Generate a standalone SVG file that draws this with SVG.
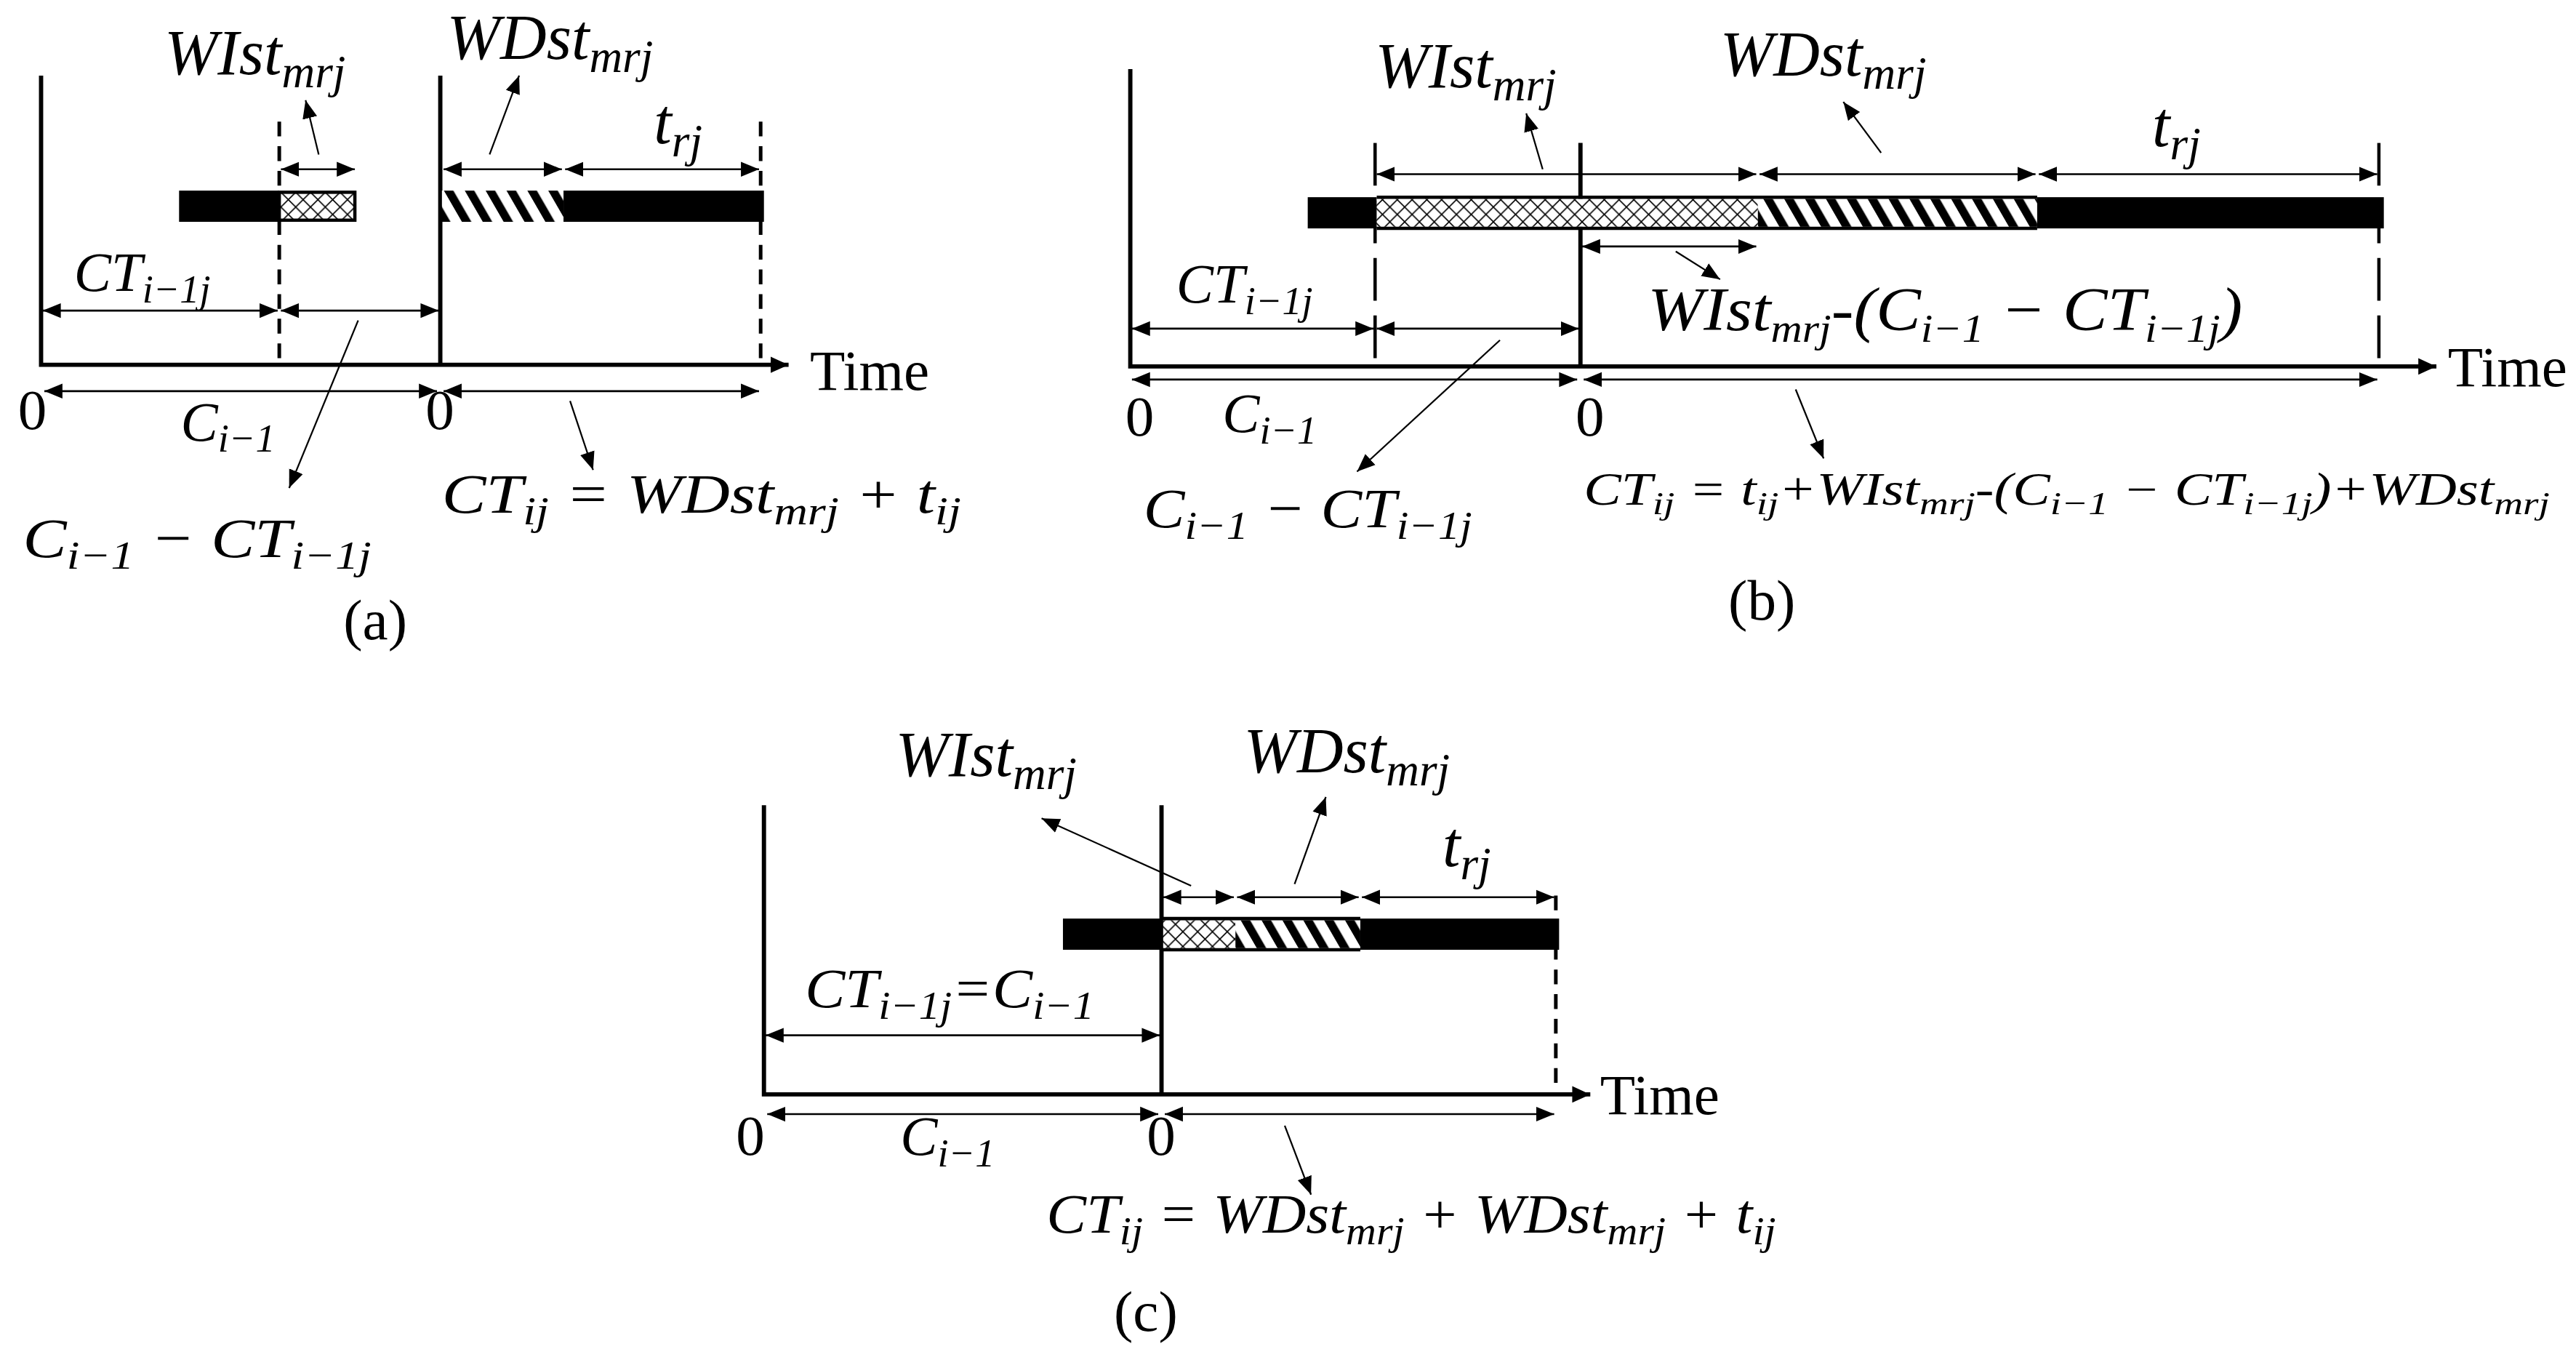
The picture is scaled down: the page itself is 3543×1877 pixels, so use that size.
<svg xmlns="http://www.w3.org/2000/svg" width="3543" height="1877" viewBox="0 0 3543 1877">
<style>
.ax{stroke:#000;stroke-width:2.6;fill:none}
.ds{stroke:#000;stroke-width:2.2;fill:none;stroke-dasharray:9,6}
.dl{stroke:#000;stroke-width:2;fill:none;stroke-dasharray:26,9}
.dm{stroke:#000;stroke-width:1.2;fill:none;marker-start:url(#ah);marker-end:url(#ah)}
.ld{stroke:#000;stroke-width:1;fill:none;marker-end:url(#ah)}
.m{font-family:"Liberation Serif",serif;font-style:italic;font-size:34px;fill:#000}
.s{font-size:24px}
.L{font-size:39px}
.L .s{font-size:28px}
.t{font-family:"Liberation Serif",serif;font-size:35px;fill:#000}
</style>
<defs>
<marker id="ah" markerUnits="userSpaceOnUse" markerWidth="12" markerHeight="10" refX="11" refY="4.5" orient="auto-start-reverse" viewBox="0 0 12 9"><path d="M0,0 L11,4.5 L0,9 z" fill="#000"/></marker>
<marker id="ax" markerUnits="userSpaceOnUse" markerWidth="12" markerHeight="12" refX="11" refY="5" orient="auto" viewBox="0 0 12 10"><path d="M0,0 L11,5 L0,10 z" fill="#000"/></marker>
<pattern id="cross" patternUnits="userSpaceOnUse" width="9" height="9"><rect width="9" height="9" fill="#fff"/><path d="M0,0 L9,9 M9,0 L0,9" stroke="#000" stroke-width="0.7"/></pattern>
<pattern id="hatch" patternUnits="userSpaceOnUse" width="11" height="11" patternTransform="rotate(-30)"><rect width="11" height="11" fill="#fff"/><rect width="5" height="11" fill="#000"/></pattern>
</defs>
<rect width="3543" height="1877" fill="#fff"/>
<g transform="scale(2.2596)">
<g id="panel-a">
<path class="ax" d="M25,46 V222 H480" marker-end="url(#ax)"/>
<path class="ax" d="M268,46 V222"/>
<path class="ds" d="M170,74 V222"/>
<path class="ds" d="M463,74 V222"/>
<rect x="109" y="116" width="61" height="19" fill="#000"/>
<rect x="170" y="117" width="46" height="17" fill="url(#cross)" stroke="#000" stroke-width="2"/>
<rect x="269" y="116" width="74" height="19" fill="url(#hatch)"/>
<rect x="343" y="116" width="122" height="19" fill="#000"/>
<text class="t" x="493" y="237">Time</text>
<text class="m L" x="100" y="45">WIst<tspan class="s" dy="8">mrj</tspan></text>
<text class="m L" x="272" y="36">WDst<tspan class="s" dy="8">mrj</tspan></text>
<text class="m L" x="398" y="87">t<tspan class="s" dy="8">rj</tspan></text>
<text class="m" x="45" y="177">CT<tspan class="s" dy="7">i−1j</tspan></text>
<text class="t" x="11" y="261">0</text>
<text class="m" x="110" y="268">C<tspan class="s" dy="7">i−1</tspan></text>
<text class="t" x="259" y="261">0</text>
<text class="m" x="14" y="339" textLength="212" lengthAdjust="spacingAndGlyphs">C<tspan class="s" dy="7">i−1</tspan><tspan dy="-7"> − CT</tspan><tspan class="s" dy="7">i−1j</tspan></text>
<text class="m" x="269" y="312" textLength="316" lengthAdjust="spacingAndGlyphs">CT<tspan class="s" dy="7">ij</tspan><tspan dy="-7"> = WDst</tspan><tspan class="s" dy="7">mrj</tspan><tspan dy="-7"> + t</tspan><tspan class="s" dy="7">ij</tspan></text>
<text class="t" x="209" y="389">(a)</text>
</g>
<g id="panel-b">
<path class="ax" d="M688,42 V223 H1483" marker-end="url(#ax)"/>
<path class="ax" d="M962,87 V223"/>
<path class="dl" d="M837,87 V223"/>
<path class="dl" d="M1448,87 V223"/>
<rect x="796" y="120" width="42" height="19" fill="#000"/>
<rect x="838" y="121" width="232" height="17" fill="url(#cross)"/>
<rect x="1070" y="121" width="170" height="17" fill="url(#hatch)"/>
<rect x="1240" y="120" width="211" height="19" fill="#000"/>
<path d="M838,120 H1240 M838,139 H1240" stroke="#000" stroke-width="2"/>
<text class="t" x="1490" y="235">Time</text>
<text class="m L" x="837" y="53">WIst<tspan class="s" dy="8">mrj</tspan></text>
<text class="m L" x="1047" y="46">WDst<tspan class="s" dy="8">mrj</tspan></text>
<text class="m L" x="1310" y="89">t<tspan class="s" dy="8">rj</tspan></text>
<text class="m" x="716" y="184">CT<tspan class="s" dy="7">i−1j</tspan></text>
<text class="m" x="1003" y="201" style="font-size:37px" textLength="362" lengthAdjust="spacingAndGlyphs">WIst<tspan class="s" dy="7">mrj</tspan><tspan dy="-7">-(C</tspan><tspan class="s" dy="7">i−1</tspan><tspan dy="-7"> − CT</tspan><tspan class="s" dy="7">i−1j</tspan><tspan dy="-7">)</tspan></text>
<text class="t" x="685" y="265">0</text>
<text class="m" x="744" y="263">C<tspan class="s" dy="7">i−1</tspan></text>
<text class="t" x="959" y="265">0</text>
<text class="m" x="696" y="321" textLength="200" lengthAdjust="spacingAndGlyphs">C<tspan class="s" dy="7">i−1</tspan><tspan dy="-7"> − CT</tspan><tspan class="s" dy="7">i−1j</tspan></text>
<text class="m" x="964" y="307" style="font-size:28px" textLength="588" lengthAdjust="spacingAndGlyphs">CT<tspan class="s" dy="6" style="font-size:20px">ij</tspan><tspan dy="-6"> = t</tspan><tspan class="s" dy="6" style="font-size:20px">ij</tspan><tspan dy="-6">+WIst</tspan><tspan class="s" dy="6" style="font-size:20px">mrj</tspan><tspan dy="-6">-(C</tspan><tspan class="s" dy="6" style="font-size:20px">i−1</tspan><tspan dy="-6"> − CT</tspan><tspan class="s" dy="6" style="font-size:20px">i−1j</tspan><tspan dy="-6">)+WDst</tspan><tspan class="s" dy="6" style="font-size:20px">mrj</tspan></text>
<text class="t" x="1052" y="377">(b)</text>
</g>
<g id="panel-c">
<path class="ax" d="M465,490 V666 H968" marker-end="url(#ax)"/>
<path class="ax" d="M707,490 V666"/>
<path class="ds" d="M947,545 V666"/>
<rect x="647" y="559" width="61" height="19" fill="#000"/>
<rect x="708" y="560" width="44" height="17" fill="url(#cross)"/>
<rect x="752" y="560" width="76" height="17" fill="url(#hatch)"/>
<rect x="828" y="559" width="121" height="19" fill="#000"/>
<path d="M708,559 H828 M708,578 H828" stroke="#000" stroke-width="2"/>
<text class="t" x="974" y="678">Time</text>
<text class="m L" x="545" y="472">WIst<tspan class="s" dy="8">mrj</tspan></text>
<text class="m L" x="757" y="470">WDst<tspan class="s" dy="8">mrj</tspan></text>
<text class="m L" x="878" y="527">t<tspan class="s" dy="8">rj</tspan></text>
<text class="m" x="490" y="613" textLength="176" lengthAdjust="spacingAndGlyphs">CT<tspan class="s" dy="7">i−1j</tspan><tspan dy="-7">=C</tspan><tspan class="s" dy="7">i−1</tspan></text>
<text class="t" x="448" y="703">0</text>
<text class="m" x="548" y="703">C<tspan class="s" dy="7">i−1</tspan></text>
<text class="t" x="698" y="703">0</text>
<text class="m" x="637" y="750" textLength="444" lengthAdjust="spacingAndGlyphs">CT<tspan class="s" dy="7">ij</tspan><tspan dy="-7"> = WDst</tspan><tspan class="s" dy="7">mrj</tspan><tspan dy="-7"> + WDst</tspan><tspan class="s" dy="7">mrj</tspan><tspan dy="-7"> + t</tspan><tspan class="s" dy="7">ij</tspan></text>
<text class="t" x="678" y="810">(c)</text>
</g>
<g id="connectors">
<path class="dm" d="M171,103 H216"/>
<path class="dm" d="M270,103 H342"/>
<path class="dm" d="M344,103 H462"/>
<path class="dm" d="M26,189 H169"/>
<path class="dm" d="M171,189 H267"/>
<path class="dm" d="M27,238 H266"/>
<path class="dm" d="M270,238 H462"/>
<path class="ld" d="M194,94 L186,61"/>
<path class="ld" d="M298,94 L316,46"/>
<path class="ld" d="M218,195 L176,297"/>
<path class="ld" d="M347,244 L361,286"/>
<path class="dm" d="M838,106 H1069"/>
<path class="dm" d="M1071,106 H1239"/>
<path class="dm" d="M1241,106 H1447"/>
<path class="dm" d="M963,150 H1069"/>
<path class="dm" d="M689,200 H836"/>
<path class="dm" d="M838,200 H961"/>
<path class="dm" d="M689,231 H960"/>
<path class="dm" d="M964,231 H1447"/>
<path class="ld" d="M939,103 L929,69"/>
<path class="ld" d="M1145,93 L1122,62"/>
<path class="ld" d="M1020,153 L1047,170"/>
<path class="ld" d="M913,207 L826,287"/>
<path class="ld" d="M1093,237 L1110,279"/>
<path class="dm" d="M708,546 H751"/>
<path class="dm" d="M753,546 H827"/>
<path class="dm" d="M829,546 H946"/>
<path class="dm" d="M466,630 H706"/>
<path class="dm" d="M467,678 H705"/>
<path class="dm" d="M709,678 H946"/>
<path class="ld" d="M725,539 L634,498"/>
<path class="ld" d="M788,538 L807,485"/>
<path class="ld" d="M782,685 L798,727"/>
</g>
</g>
</svg>
